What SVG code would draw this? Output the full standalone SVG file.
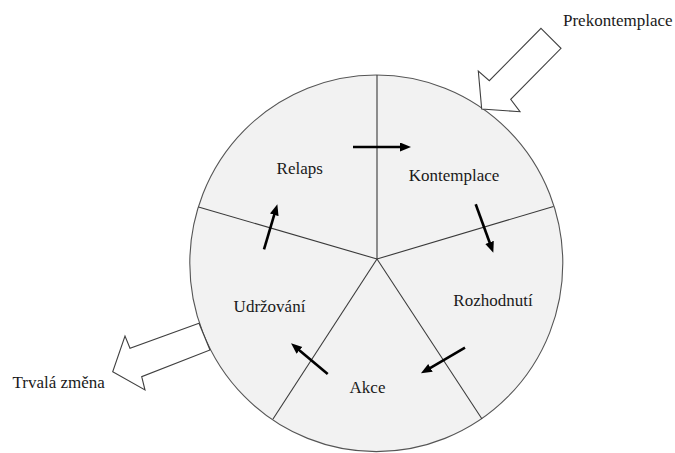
<svg xmlns="http://www.w3.org/2000/svg" width="675" height="453" viewBox="0 0 675 453">
<style>
text{font-family:"Liberation Serif","Times New Roman",serif;font-size:17px;fill:#1a1a1a}
.spoke{stroke:#3a3a3a;stroke-width:1.1;fill:none}
.flow{stroke:#000;stroke-width:2.6;fill:none;marker-end:url(#ah)}
.big{fill:#fff;stroke:#404040;stroke-width:1.1;stroke-linejoin:miter}
</style>
<defs>
<marker id="ah" markerUnits="userSpaceOnUse" markerWidth="12" markerHeight="10" refX="1" refY="4.5" orient="auto">
<path d="M0,0 L11,4.5 L0,9 z" fill="#000"/>
</marker>
</defs>
<g id="wheel">
<ellipse cx="376.3" cy="263.3" rx="186.5" ry="188.3" fill="#f2f2f2" stroke="#555" stroke-width="1.1"/>
</g>
<g id="spokes">
<line class="spoke" x1="377" y1="259" x2="377" y2="75"/>
<line class="spoke" x1="377" y1="259" x2="198.5" y2="207"/>
<line class="spoke" x1="377" y1="259" x2="553.5" y2="206.5"/>
<line class="spoke" x1="377" y1="259" x2="273" y2="419"/>
<line class="spoke" x1="377" y1="259" x2="482" y2="419"/>
</g>
<g id="node-relaps"><text x="299.7" y="174.3" text-anchor="middle">Relaps</text></g>
<g id="node-kontemplace"><text x="454" y="180.7" text-anchor="middle">Kontemplace</text></g>
<g id="node-rozhodnuti"><text x="493" y="306" text-anchor="middle">Rozhodnutí</text></g>
<g id="node-akce"><text x="367.5" y="393.3" text-anchor="middle">Akce</text></g>
<g id="node-udrzovani"><text x="269.5" y="311.7" text-anchor="middle">Udržování</text></g>
<g id="node-prekontemplace"><text x="563" y="26">Prekontemplace</text></g>
<g id="node-trvala"><text x="12.5" y="388.3">Trvalá změna</text></g>
<g id="connectors">
<line class="flow" x1="353" y1="147" x2="401" y2="147"/>
<line class="flow" x1="475.7" y1="204.3" x2="489.9" y2="243.3"/>
<line class="flow" x1="465" y1="347.7" x2="429.6" y2="368.3"/>
<line class="flow" x1="327.7" y1="374" x2="298.7" y2="349.7"/>
<line class="flow" x1="264" y1="249.3" x2="274.5" y2="213.9"/>
<polygon class="big" points="541,28.3 561,48.3 510.7,99.3 520,111.7 481.7,109 478.3,71 489.3,80.7"/>
<polygon class="big" points="199,323.3 130,348.3 125,336 112.7,371.7 145,390 141.7,376.7 210,350"/>
</g>
</svg>
